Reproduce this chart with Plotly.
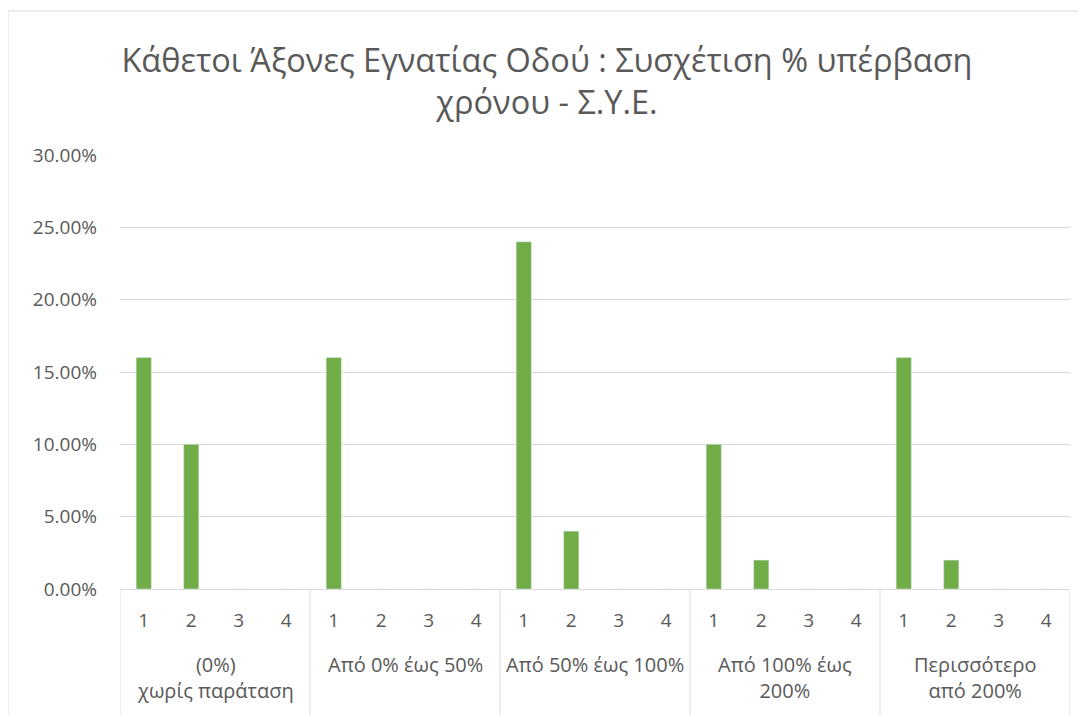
import plotly.graph_objects as go

groups = ["(0%)<br>χωρίς παράταση", "Από 0% έως 50%", "Από 50% έως 100%",
          "Από 100% έως<br>200%", "Περισσότερο<br>από 200%"]
subs = ["1", "2", "3", "4"]
values = [
    [0.16, 0.10, 0.0, 0.0],
    [0.16, 0.0, 0.0, 0.0],
    [0.24, 0.04, 0.0, 0.0],
    [0.10, 0.02, 0.0, 0.0],
    [0.16, 0.02, 0.0, 0.0],
]
y_ticks = [0, 0.05, 0.10, 0.15, 0.20, 0.25, 0.30]
title_text = "Κάθετοι Άξονες Εγνατίας Οδού : Συσχέτιση % υπέρβαση<br>χρόνου - Σ.Υ.Ε."

n_sub = len(subs)
xpos, xtext, yv = [], [], []
for gi, row in enumerate(values):
    for si, v in enumerate(row):
        xpos.append(gi * n_sub + si)
        xtext.append(subs[si])
        yv.append(v)

FONT = "Open Sans"
GREY = "#595959"
LINE = "#d9d9d9"

fig = go.Figure(go.Bar(x=xpos, y=yv, marker_color="#70ad47", width=0.32))

fig.update_layout(
    width=1078, height=707,
    paper_bgcolor="white", plot_bgcolor="white",
    margin=dict(l=112, r=16, t=147, b=126, autoexpand=False),
    title=dict(text=title_text, x=0.5, xref="container", xanchor="center",
               y=0.91, yref="container", yanchor="top",
               font=dict(family=FONT, size=32.5, color=GREY)),
    showlegend=False,
    font=dict(family=FONT, size=19, color=GREY),
)
fig.update_yaxes(range=[0, 0.30], tickvals=y_ticks, tickformat=".2%",
                 showgrid=True, gridcolor=LINE, gridwidth=1,
                 zeroline=False, showline=False, ticks="",
                 ticklabelstandoff=22, automargin=False,
                 tickfont=dict(family=FONT, size=19, color=GREY))
fig.update_xaxes(range=[-0.5, len(xpos) - 0.5], tickvals=xpos, ticktext=xtext,
                 showline=True, linecolor=LINE, linewidth=1, showgrid=False,
                 zeroline=False, ticks="", automargin=False,
                 ticklabelstandoff=14,
                 tickfont=dict(family=FONT, size=19, color=GREY))

# group dividers below the axis
for gi in range(len(groups) + 1):
    xd = gi * n_sub - 0.5
    fig.add_shape(type="line", xref="x", yref="paper", x0=xd, x1=xd,
                  y0=0, y1=-0.35, line=dict(color=LINE, width=1))

# group labels
for gi, g in enumerate(groups):
    fig.add_annotation(text=g, xref="x", yref="paper",
                       x=gi * n_sub + (n_sub - 1) / 2, y=-0.138,
                       xanchor="center", yanchor="top", showarrow=False,
                       font=dict(family=FONT, size=20, color=GREY))

# outer chart border (right and bottom edges lie outside the picture)
fig.add_shape(type="rect", xref="paper", yref="paper",
              x0=-112/950, x1=1 + 40/950, y0=-1, y1=1 + 144/434,
              line=dict(color=LINE, width=1), fillcolor="rgba(0,0,0,0)",
              layer="below")

fig.write_html("out.html")
